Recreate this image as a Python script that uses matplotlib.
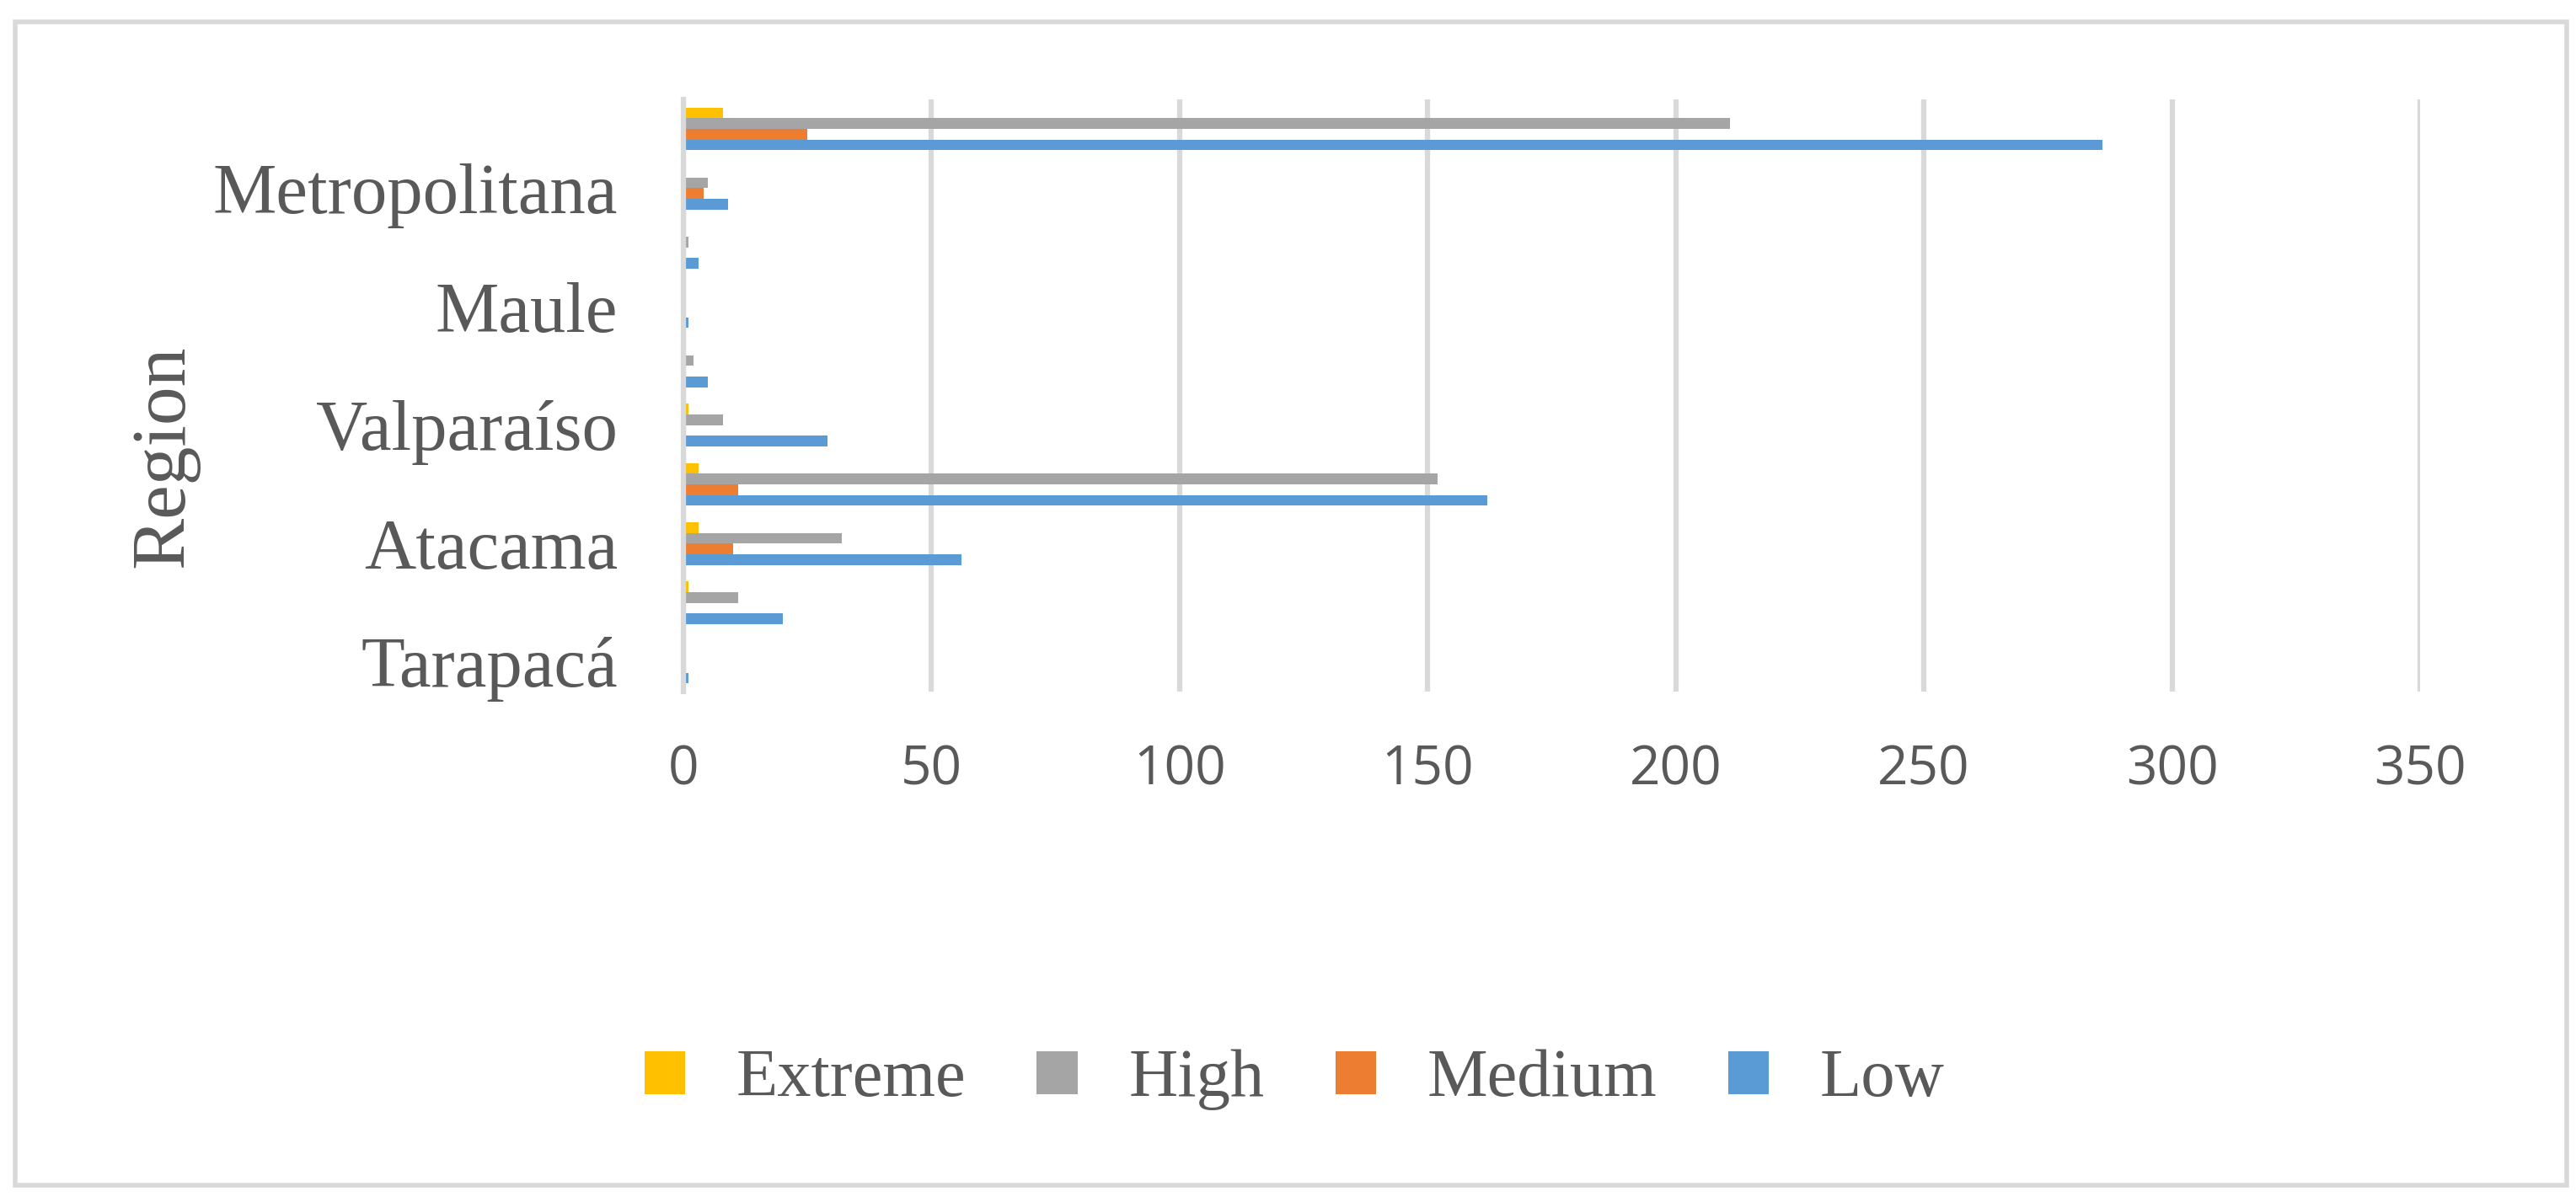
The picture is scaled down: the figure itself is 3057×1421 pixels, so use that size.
import matplotlib

matplotlib.use("Agg")

import matplotlib.pyplot as plt  # noqa: E402
import numpy as np  # noqa: E402
from matplotlib.patches import Rectangle  # noqa: E402

# ---------------------------------------------------------------------------
# Data (bottom category first)
# ---------------------------------------------------------------------------
REGIONS = [
    "Tarapacá", "Antofagasta", "Atacama", "Coquimbo", "Valparaíso",
    "O'Higgins", "Maule", "Biobío", "Metropolitana", "Los Lagos",
]
LOW = [1, 20, 56, 162, 29, 5, 1, 3, 9, 286]
MEDIUM = [0, 0, 10, 11, 0, 0, 0, 0, 4, 25]
HIGH = [0, 11, 32, 152, 8, 2, 0, 1, 5, 211]
EXTREME = [0, 1, 3, 3, 1, 0, 0, 0, 0, 8]

X_TICKS = [0, 50, 100, 150, 200, 250, 300, 350]

SERIES = [  # drawn bottom-to-top inside each group
    ("Low", LOW, "#5B9BD5"),
    ("Medium", MEDIUM, "#ED7D31"),
    ("High", HIGH, "#A5A5A5"),
    ("Extreme", EXTREME, "#FFC000"),
]

TEXT_COLOR = "#595959"
GRID_COLOR = "#D9D9D9"
SERIF = ["Liberation Serif", "DejaVu Serif"]

W, H, DPI = 3057, 1421, 100
AX_L, AX_R, AX_T, AX_B = 811, 2872, 118, 821

fig = plt.figure(figsize=(W / DPI, H / DPI), dpi=DPI)
ax = fig.add_axes([AX_L / W, 1 - AX_B / H, (AX_R - AX_L) / W, (AX_B - AX_T) / H])

bar_h = 0.18
pos = np.arange(len(REGIONS))
handles = {}
for i, (name, values, color) in enumerate(SERIES):
    offset = (i - 1.5) * bar_h
    handles[name] = ax.barh(pos + offset, values, height=bar_h, color=color,
                            label=name, zorder=3)

ax.set_xlim(0, 350)
ax.set_ylim(-0.5, len(REGIONS) - 0.5)
ax.set_xticks(X_TICKS)
ax.set_xticklabels([str(t) for t in X_TICKS], fontsize=46, color=TEXT_COLOR,
                   family=["Open Sans", "DejaVu Sans"])
ax.set_yticks(pos[::2])
ax.set_yticklabels(REGIONS[::2], fontsize=61, color=TEXT_COLOR, family=SERIF)
ax.tick_params(axis="both", length=0)
ax.tick_params(axis="y", pad=56)
ax.tick_params(axis="x", pad=44)

ax.grid(axis="x", color=GRID_COLOR, linewidth=4.5, zorder=0)
for side in ["top", "right", "bottom"]:
    ax.spines[side].set_visible(False)
ax.spines["left"].set_color(GRID_COLOR)
ax.spines["left"].set_linewidth(4.5)
ax.spines["left"].set_zorder(4)

ax.set_ylabel("Region", fontsize=66, color=TEXT_COLOR, family=SERIF)
ax.yaxis.set_label_coords((236 - AX_L) / (AX_R - AX_L),
                          1 - (542 - AX_T) / (AX_B - AX_T))

order = ["Extreme", "High", "Medium", "Low"]
leg = fig.legend(
    [handles[n] for n in order], order,
    loc="center left", bbox_to_anchor=(692 / W, 1 - 1282 / H),
    ncol=4, frameon=False,
    prop={"family": SERIF, "size": 58},
    handlelength=0.6, handleheight=0.6, handletextpad=0.75,
    columnspacing=1.05,
)
for t in leg.get_texts():
    t.set_color(TEXT_COLOR)

# outer chart-area border
fig.patches.append(Rectangle(
    (18 / W, 1 - 1407 / H), (3046 - 18) / W, (1407 - 26) / H,
    transform=fig.transFigure, fill=False, edgecolor=GRID_COLOR,
    linewidth=4,
))

fig.savefig("out.png", dpi=DPI, facecolor="white")
